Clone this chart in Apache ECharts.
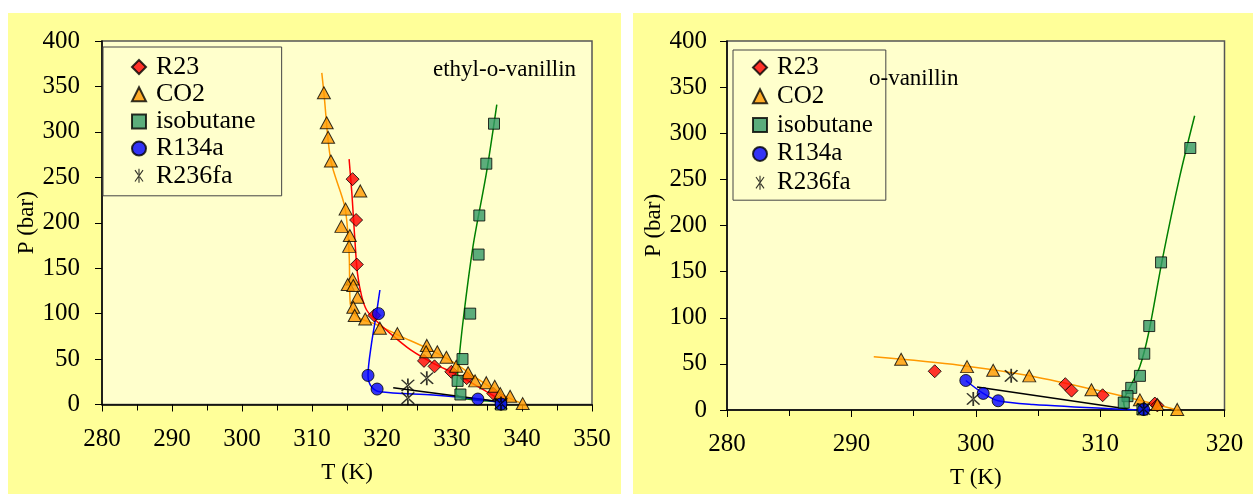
<!DOCTYPE html>
<html>
<head>
<meta charset="utf-8">
<script src="https://cdn.jsdelivr.net/npm/echarts@6/dist/echarts.min.js"></script>
<style>
  html, body { margin:0; padding:0; background:#ffffff; }
  #wrap { position:relative; width:1253px; height:494px; background:#ffffff; }
  .panel { position:absolute; background:#ffff99; }
  #chart { position:absolute; left:0; top:0; width:1253px; height:494px; }
</style>
</head>
<body>
<div id="wrap">
  <div class="panel" style="left:8px; top:13px; width:613px; height:481px;"></div>
  <div class="panel" style="left:633px; top:13px; width:620px; height:481px;"></div>
  <div id="chart"></div>
</div>
<script>
// ---------- data: [T (K), P (bar)] ----------
const legendNames = ['R23', 'CO2', 'isobutane', 'R134a', 'R236fa'];
const leftTitle = 'ethyl-o-vanillin';
const rightTitle = 'o-vanillin';

// left panel (ethyl-o-vanillin) measured points
const leftR23 = [[315.8,248],[316.3,203],[316.4,154],[318.9,98],[326.0,48],[327.5,42],[329.9,36],[332.1,29],[335.9,12],[337.1,5]];
const leftCO2 = [[311.7,343],[312.1,310],[312.3,294],[312.7,268],[316.9,235],[314.8,215],[314.2,196],[315.4,186],[315.3,174],[315.8,138],[315.1,132],[315.9,131],[316.5,118],[315.9,107],[316.1,98],[317.6,94],[319.7,84],[322.2,78],[326.4,65],[326.3,58],[327.9,58],[329.2,52],[330.6,42],[332.3,35],[333.3,26],[334.9,24],[336.1,20],[336.9,12],[338.3,9],[340.1,1]];
const leftIso = [[336.0,309],[334.9,265],[333.9,208],[333.8,165],[332.6,100],[331.5,50],[330.8,26],[331.2,11],[337.0,0]];
const leftR134a = [[319.5,100],[318.0,32],[319.3,17],[333.7,6],[337.0,0.5]];
const leftR236fa = [[323.7,21],[323.7,7],[326.4,29],[337.0,1]];

// left panel fitted curves
const leftCO2Fit = [[311.4,365],[311.7,343],[312.7,268],[314.7,217],[315.3,166],[315.4,122],[315.6,106],[316.6,96],[319.2,88],[322.4,76],[326.4,62],[330.1,47],[333.9,27],[336.9,12],[339.7,2]];
const leftR23Fit = [[315.3,270],[315.7,232],[316.1,184],[316.5,144],[317.1,119],[317.8,104],[318.8,95],[321.2,78],[324.1,60],[327.4,45],[330.8,32.5],[334.1,18],[336.9,5]];
const leftIsoFit = [[336.4,330],[334.9,254],[333.0,174],[331.6,93],[330.8,34],[330.6,12],[331.5,7],[336.9,3]];
const leftR134aFit = [[319.7,126],[319.2,100],[318.5,67],[318.0,32],[318.5,19.5],[319.7,14],[327.3,10.5],[333.7,6],[336.9,2]];
const leftR236faFit = [[321.6,18.5],[336.9,3]];

// right panel (o-vanillin) measured points
const rightR23 = [[296.7,42],[307.2,28],[307.7,21],[310.2,16],[314.4,7],[314.6,5]];
const rightCO2 = [[294.0,55],[299.3,47],[301.4,43],[304.3,37],[309.3,22],[313.2,11],[314.6,6],[316.2,0.6]];
const rightIso = [[317.25,284],[314.9,160],[313.95,91],[313.55,61],[313.2,37],[312.5,24],[312.2,15],[311.9,8],[313.4,0.6]];
const rightR134a = [[299.2,32],[300.6,18],[301.8,10],[313.5,0.5]];
const rightR236fa = [[302.85,37],[299.8,12],[313.5,1]];

// right panel fitted curves
const rightCO2Fit = [[291.8,57.6],[298.7,48.6],[304.1,37.7],[309.5,22.2],[313.5,9.5],[316.2,0]];
const rightIsoFit = [[317.6,319],[316.4,253],[315.0,163],[313.9,83.5],[313.2,47.5],[312.3,22],[311.9,9.5],[312.0,2.5],[312.7,0]];
const rightR134aFit = [[299.2,32],[300.6,18],[301.8,10],[304.6,6],[312.2,0.5],[313.5,0]];
const rightR236faFit = [[300.1,25],[312.2,1]];

// ---------- styling ----------
const FONT = 'Liberation Serif';
const STAR = 'path://M-0.8,-10 L0.8,-10 L0.8,10 L-0.8,10 Z M5.1,8.6 L6.4,7.7 L-5.1,-8.6 L-6.4,-7.7 Z M-5.1,8.6 L-6.4,7.7 L5.1,-8.6 L6.4,-7.7 Z';

function scatter(name, data, idx, symbol, size, color, border) {
  return {
    type: 'scatter', name: name, data: data,
    xAxisIndex: idx, yAxisIndex: idx,
    symbol: symbol, symbolSize: size, z: 5,
    itemStyle: border ? { color: color, borderColor: '#000', borderWidth: 1 } : { color: color, borderWidth: 0 },
    silent: true
  };
}
function fit(name, data, idx, color) {
  return {
    type: 'line', name: name, data: data,
    xAxisIndex: idx, yAxisIndex: idx,
    showSymbol: false, symbol: 'none', smooth: 0.3, z: 3,
    lineStyle: { color: color, width: 1.5 },
    silent: true
  };
}

function xAxis(idx, max, margin, gap) {
  return {
    type: 'value', gridIndex: idx, min: 280, max: max, interval: 10,
    name: 'T (K)', nameLocation: 'middle', nameGap: gap,
    nameTextStyle: { fontFamily: FONT, fontSize: 23, color: '#000' },
    axisLine: { onZero: false, lineStyle: { color: '#000', width: 1.5 } },
    axisTick: { show: true, length: 7, lineStyle: { color: '#000' } },
    minorTick: { show: true, splitNumber: 2, length: 6, lineStyle: { color: '#000' } },
    axisLabel: { fontFamily: FONT, fontSize: 25, color: '#000', margin: margin },
    splitLine: { show: false }
  };
}
function yAxis(idx, margin, gap) {
  return {
    type: 'value', gridIndex: idx, min: 0, max: 400, interval: 50,
    name: 'P (bar)', nameLocation: 'middle', nameGap: gap,
    nameTextStyle: { fontFamily: FONT, fontSize: 23, color: '#000' },
    axisLine: { show: true, onZero: false, lineStyle: { color: '#000', width: 1.5 } },
    axisTick: { show: true, length: 7, lineStyle: { color: '#000' } },
    axisLabel: { fontFamily: FONT, fontSize: 25, color: '#000', margin: margin },
    splitLine: { show: false }
  };
}
function legend(left, top, gap, pad, fs) {
  return {
    left: left, top: top, orient: 'vertical', data: legendNames,
    itemWidth: 14, itemHeight: 14, itemGap: gap, padding: pad,
    backgroundColor: '#ffffcc', borderColor: '#444', borderWidth: 1,
    selectedMode: false,
    textStyle: { fontFamily: FONT, fontSize: fs, color: '#000', padding: [0, 0, 0, 5] }
  };
}

const chart = echarts.init(document.getElementById('chart'), null, { renderer: 'canvas' });
chart.setOption({
  animation: false,
  backgroundColor: 'transparent',
  grid: [
    { left: 102, top: 41, right: 661, bottom: 89.5, show: true, backgroundColor: '#ffffcc', borderColor: '#555', borderWidth: 1.5 },
    { left: 727, top: 41, right: 28.5, bottom: 83.5, show: true, backgroundColor: '#ffffcc', borderColor: '#555', borderWidth: 1.5 }
  ],
  xAxis: [ xAxis(0, 350, 22, 57), xAxis(1, 320, 22, 56) ],
  yAxis: [ yAxis(0, 22, 59), yAxis(1, 20, 55) ],
  legend: [ legend(103, 47, 1.2, [7, 26, 7, 28], 26), legend(733, 50, 3.8, [5, 13, 5, 19], 25) ],
  graphic: [
    { type: 'text', left: 433, top: 58, style: { text: leftTitle, font: '23px "Liberation Serif"', fill: '#000' }, z: 10 },
    { type: 'text', left: 869, top: 67, style: { text: rightTitle, font: '23px "Liberation Serif"', fill: '#000' }, z: 10 }
  ],
  series: [
    fit('CO2 fit L', leftCO2Fit, 0, '#ff9900'),
    fit('R23 fit L', leftR23Fit, 0, '#ff0000'),
    fit('iso fit L', leftIsoFit, 0, '#008000'),
    fit('R134a fit L', leftR134aFit, 0, '#0000ff'),
    fit('R236fa fit L', leftR236faFit, 0, '#000000'),
    scatter('R23', leftR23, 0, 'diamond', 13, '#ff0000', true),
    scatter('CO2', leftCO2, 0, 'triangle', [13, 12], '#ff9900', true),
    scatter('isobutane', leftIso, 0, 'rect', 11, '#339966', true),
    scatter('R134a', leftR134a, 0, 'circle', 12, '#0000ff', true),
    scatter('R236fa', leftR236fa, 0, STAR, 14, '#000000', false),

    fit('CO2 fit R', rightCO2Fit, 1, '#ff9900'),
    fit('iso fit R', rightIsoFit, 1, '#008000'),
    fit('R134a fit R', rightR134aFit, 1, '#0000ff'),
    fit('R236fa fit R', rightR236faFit, 1, '#000000'),
    scatter('R23', rightR23, 1, 'diamond', 13, '#ff0000', true),
    scatter('CO2', rightCO2, 1, 'triangle', [13, 12], '#ff9900', true),
    scatter('isobutane', rightIso, 1, 'rect', 11, '#339966', true),
    scatter('R134a', rightR134a, 1, 'circle', 12, '#0000ff', true),
    scatter('R236fa', rightR236fa, 1, STAR, 14, '#000000', false)
  ]
});
</script>
</body>
</html>
